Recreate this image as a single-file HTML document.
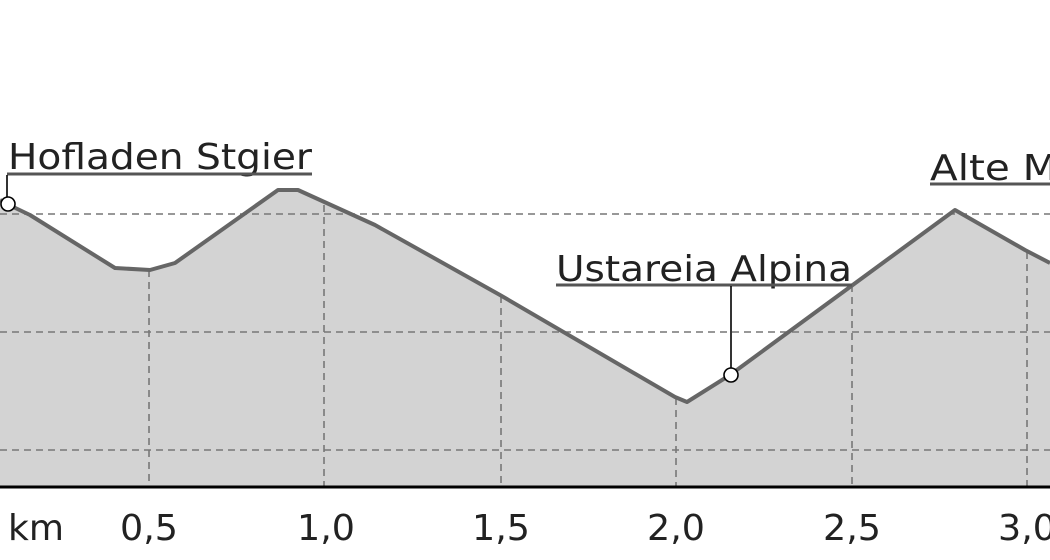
<!DOCTYPE html>
<html><head><meta charset="utf-8"><style>html,body{margin:0;padding:0;background:#fff}svg{display:block}</style></head>
<body>
<svg width="1050" height="560" viewBox="0 0 1050 560" xmlns="http://www.w3.org/2000/svg" font-family="DejaVu Sans, Liberation Sans, sans-serif">
<polygon points="0,200 7,204 30,215 115,268 150,270 175,263 278,190 298,190 375,225 500,295 675,397 687,402 730,375 955,210 1025,250 1050,263 1050,487 0,487" fill="#d3d3d3"/>
<g stroke="#777" stroke-width="1.6" stroke-dasharray="7,5" fill="none">
<line x1="0" y1="214" x2="1050" y2="214"/>
<line x1="0" y1="332" x2="1050" y2="332"/>
<line x1="0" y1="450" x2="1050" y2="450"/>
<line x1="149" y1="270" x2="149" y2="487"/>
<line x1="324" y1="205" x2="324" y2="487"/>
<line x1="501" y1="296" x2="501" y2="487"/>
<line x1="676" y1="398" x2="676" y2="487"/>
<line x1="852" y1="285" x2="852" y2="487"/>
<line x1="1027" y1="252" x2="1027" y2="487"/>
</g>
<polyline points="0,200 7,204 30,215 115,268 150,270 175,263 278,190 298,190 375,225 500,295 675,397 687,402 730,375 955,210 1025,250 1050,263" fill="none" stroke="#666" stroke-width="4" stroke-linejoin="round"/>
<line x1="0" y1="487" x2="1050" y2="487" stroke="#000" stroke-width="3"/>
<g fill="#222" font-size="36">
<text x="8" y="169" textLength="304" lengthAdjust="spacingAndGlyphs">Hofladen Stgier</text>
<text x="556" y="281" textLength="296" lengthAdjust="spacingAndGlyphs">Ustareia Alpina</text>
<text x="930" y="180" textLength="215" lengthAdjust="spacingAndGlyphs">Alte Mühle</text>
</g>
<g stroke="#555" stroke-width="3">
<line x1="7" y1="174" x2="312" y2="174"/>
<line x1="556" y1="285" x2="852" y2="285"/>
<line x1="930" y1="184" x2="1050" y2="184"/>
</g>
<g stroke="#000" stroke-width="1.6">
<line x1="7" y1="175" x2="7" y2="197"/>
<line x1="731" y1="286" x2="731" y2="368"/>
</g>
<circle cx="8" cy="204" r="7" fill="#fff" stroke="#000" stroke-width="1.6"/>
<circle cx="731" cy="375" r="7" fill="#fff" stroke="#000" stroke-width="1.6"/>
<g fill="#222" font-size="36">
<text x="8" y="540" textLength="56" lengthAdjust="spacingAndGlyphs">km</text>
<text x="120" y="540" textLength="58" lengthAdjust="spacingAndGlyphs">0,5</text>
<text x="297" y="540" textLength="58" lengthAdjust="spacingAndGlyphs">1,0</text>
<text x="472" y="540" textLength="58" lengthAdjust="spacingAndGlyphs">1,5</text>
<text x="647" y="540" textLength="58" lengthAdjust="spacingAndGlyphs">2,0</text>
<text x="823" y="540" textLength="58" lengthAdjust="spacingAndGlyphs">2,5</text>
<text x="998" y="540" textLength="58" lengthAdjust="spacingAndGlyphs">3,0</text>
</g>
</svg>
</body></html>
